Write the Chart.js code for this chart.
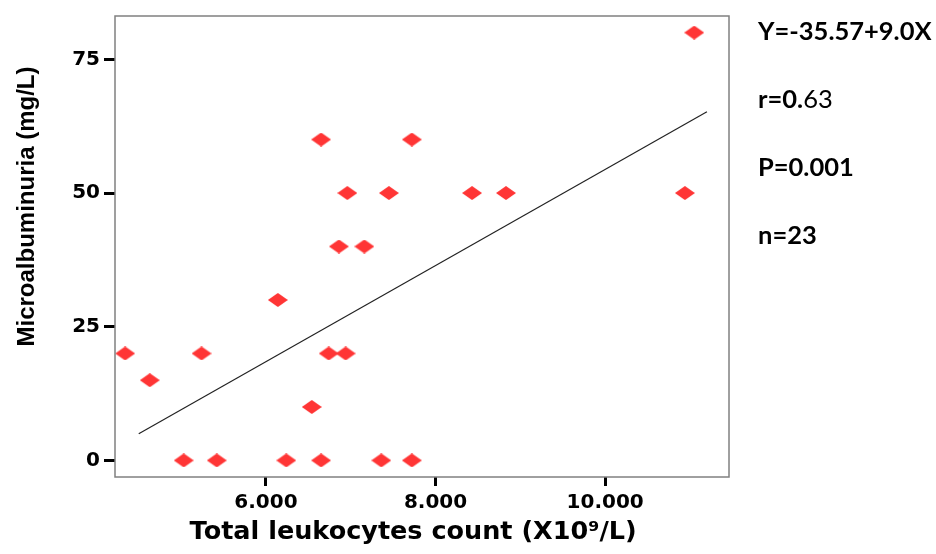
<!DOCTYPE html>
<html>
<head>
<meta charset="utf-8">
<script src="https://cdn.jsdelivr.net/npm/chart.js@4"></script>
<style>
  html, body { margin: 0; padding: 0; background: #fff; }
</style>
</head>
<body>
<canvas id="grafico" width="936" height="554"></canvas>
<script>
const ctx = document.getElementById('grafico');

// leucocitos (X10^9/L) x microalbuminuria (mg/L)
const leucocitos = [4.34, 4.63, 5.03, 5.24, 5.42, 6.14, 6.24, 6.54, 6.65, 6.65, 6.74, 6.86,
                    6.94, 6.96, 7.16, 7.36, 7.45, 7.72, 7.72, 8.43, 8.83, 10.94, 11.05];
const microalb = [20, 15, 0, 20, 0, 30, 0, 10, 0, 60, 20, 40,
                  20, 50, 40, 0, 50, 0, 60, 50, 50, 50, 80];

// linha de regressao (inicio e fim)
const linhaX = [4.5, 11.2];
const linhaY = [5.0, 65.2];

const xTicks = [6, 8, 10];
const yTicks = [0, 25, 50, 75];

// textos ao lado do grafico: [negrito, normal]
const estatisticas = [
    ['Y=-35.57+9.0X', ''],
    ['r=0.', '63'],
    ['P=0.001', ''],
    ['n=23', ''],
];

// losango achatado
const losango = document.createElement('canvas');
losango.width = 20;
losango.height = 14;
const lc = losango.getContext('2d');
lc.fillStyle = '#ff3535';
lc.beginPath();
lc.moveTo(10, 0);
lc.lineTo(20, 7);
lc.lineTo(10, 14);
lc.lineTo(0, 7);
lc.closePath();
lc.fill();

const caixa = {
    id: 'caixa',
    afterDraw: (chart) => {
        const a = chart.chartArea;
        const c = chart.ctx;
        c.save();
        c.strokeStyle = '#808080';
        c.lineWidth = 1.5;
        c.strokeRect(a.left, a.top, a.right - a.left, a.bottom - a.top);

        // estatisticas
        c.fillStyle = '#000';
        c.textBaseline = 'alphabetic';
        estatisticas.forEach((linha, i) => {
            let x = 758;
            let y = 40 + i * 68;
            c.font = "bold 25.5px Lato, 'Open Sans', sans-serif";
            c.fillText(linha[0], x, y);
            x += c.measureText(linha[0]).width;
            c.font = "25.5px Lato, 'Open Sans', sans-serif";
            c.fillText(linha[1], x, y);
        });
        c.restore();
    }
};

const pontos = leucocitos.map((x, i) => ({ x: x, y: microalb[i] }));
const linha = linhaX.map((x, i) => ({ x: x, y: linhaY[i] }));

const fonteEixo = "'DejaVu Sans', Arial, sans-serif";

new Chart(ctx, {
    type: 'scatter',
    data: {
        datasets: [{
            type: 'line',
            data: linha,
            borderColor: '#222',
            borderWidth: 1.2,
            pointRadius: 0,
            fill: false,
        },
        {
            data: pontos,
            pointStyle: losango,
            pointRadius: 8,
        }]
    },
    plugins: [caixa],
    options: {
        responsive: false,
        animation: false,
        layout: { padding: { top: 8, right: 207, left: 13, bottom: 2 } },
        plugins: {
            legend: { display: false },
            tooltip: { enabled: false },
        },
        scales: {
            x: {
                type: 'linear',
                min: 4.22,
                max: 11.46,
                afterBuildTicks: (s) => { s.ticks = xTicks.map(v => ({ value: v })) },
                afterFit: (s) => { s.height = 75 },
                border: { display: false },
                grid: { drawOnChartArea: false, tickLength: 9, tickColor: '#000', tickWidth: 3 },
                ticks: {
                    color: '#000',
                    padding: 5,
                    font: { family: fonteEixo, size: 20, weight: 'bold' },
                    callback: (v) => v.toFixed(3),
                },
                title: {
                    display: true,
                    text: 'Total leukocytes count (X10⁹/L)' + '\u00a0'.repeat(2),
                    color: '#000',
                    padding: { top: 5 },
                    font: { family: fonteEixo, size: 25.5, weight: 'bold' },
                }
            },
            y: {
                min: -3.1,
                max: 83.1,
                afterBuildTicks: (s) => { s.ticks = yTicks.map(v => ({ value: v })) },
                afterFit: (s) => { s.width = 102 },
                border: { display: false },
                grid: { drawOnChartArea: false, tickLength: 11, tickColor: '#000', tickWidth: 3 },
                ticks: {
                    color: '#000',
                    padding: 4,
                    font: { family: fonteEixo, size: 20, weight: 'bold' },
                },
                title: {
                    display: true,
                    text: '\u00a0'.repeat(12) + 'Microalbuminuria (mg/L)',
                    color: '#000',
                    padding: 0,
                    font: { family: "'Liberation Sans Narrow', 'Liberation Sans', Arial, sans-serif", size: 24, weight: 'bold' },
                }
            }
        }
    }
});
</script>
</body>
</html>
